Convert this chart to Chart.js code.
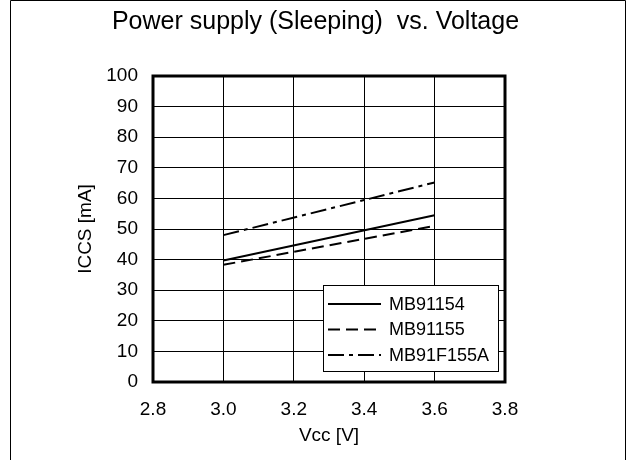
<!DOCTYPE html>
<html>
<head>
<meta charset="utf-8">
<title>Power supply (Sleeping) vs. Voltage</title>
<script src="https://cdn.jsdelivr.net/npm/chart.js@4/dist/chart.umd.min.js"></script>
<style>
  html, body { margin: 0; padding: 0; background: #fff; }
  #wrap { width: 631px; height: 460px; position: relative; }
</style>
</head>
<body>
<div id="wrap"><canvas id="iccsChart"></canvas></div>
<script>
// ==========================
// Data
// ==========================
const voltage = [3.0, 3.6];
const mb91154 = [39.7, 54.5];
const mb91155 = [38.3, 51.0];
const mb91f155a = [48.0, 65.2];
const seriesNames = ['MB91154', 'MB91155', 'MB91F155A'];
const seriesDash = [[], [12, 6], [16, 5, 4, 5]];

const FONT = 'Liberation Sans, Arial, Helvetica, sans-serif';

function toPoints(ys) {
  return voltage.map((v, i) => ({ x: v, y: ys[i] }));
}

// ==========================
// Plot frame + outer border
// ==========================
const framePlugin = {
  id: 'frame',
  afterDraw(chart) {
    const { ctx, chartArea: a, height } = chart;
    ctx.save();
    ctx.strokeStyle = '#000';
    ctx.lineWidth = 1;
    ctx.beginPath();
    ctx.moveTo(10.5, height);
    ctx.lineTo(10.5, 0.5);
    ctx.lineTo(625.5, 0.5);
    ctx.lineTo(625.5, height);
    ctx.stroke();
    ctx.lineWidth = 3;
    ctx.strokeRect(a.left, a.top, a.right - a.left, a.bottom - a.top);
    ctx.restore();
  }
};

// ==========================
// Legend box in lower right of plot
// ==========================
const lineLegend = {
  id: 'lineLegend',
  afterDraw(chart) {
    const { ctx, chartArea: a } = chart;
    const w = 175, h = 86;
    const x = a.right - 7 - w, y = a.bottom - 11 - h;
    ctx.save();
    ctx.fillStyle = '#fff';
    ctx.fillRect(x, y, w, h);
    ctx.strokeStyle = '#000';
    ctx.lineWidth = 1;
    ctx.strokeRect(x + 0.5, y + 0.5, w, h);
    ctx.font = '18px ' + FONT;
    ctx.textBaseline = 'middle';
    chart.data.datasets.forEach((ds, i) => {
      const cy = y + 19 + i * 25.5;
      ctx.setLineDash(ds.borderDash || []);
      ctx.lineWidth = 2;
      ctx.beginPath();
      ctx.moveTo(x + 5, cy);
      ctx.lineTo(x + 58, cy);
      ctx.stroke();
      ctx.setLineDash([]);
      ctx.fillStyle = '#000';
      ctx.fillText(ds.label, x + 66, cy + 1);
    });
    ctx.restore();
  }
};

new Chart(document.getElementById('iccsChart').getContext('2d'), {
  type: 'scatter',
  data: {
    datasets: [mb91154, mb91155, mb91f155a].map((ys, i) => ({
      label: seriesNames[i],
      data: toPoints(ys),
      showLine: true,
      borderColor: '#000',
      backgroundColor: '#000',
      borderWidth: 2,
      borderDash: seriesDash[i],
      pointRadius: 0,
      tension: 0
    }))
  },
  options: {
    responsive: true,
    maintainAspectRatio: false,
    animation: false,
    layout: { padding: 0 },
    plugins: {
      legend: { display: false },
      tooltip: { enabled: false },
      title: {
        display: true,
        text: 'Power supply (Sleeping)  vs. Voltage',
        color: '#000',
        font: { family: FONT, size: 25, weight: 'normal', lineHeight: 1.2 },
        padding: { top: 7, bottom: 39 }
      }
    },
    scales: {
      x: {
        type: 'linear',
        min: 2.8,
        max: 3.8,
        ticks: {
          stepSize: 0.2,
          color: '#000',
          padding: 16,
          font: { family: FONT, size: 19 },
          callback: v => v.toFixed(1)
        },
        grid: { color: '#000', lineWidth: 1, drawTicks: false },
        border: { display: false },
        title: {
          display: true,
          text: 'Vcc [V]',
          color: '#000',
          font: { family: FONT, size: 19, lineHeight: 1.2 },
          padding: { top: 0, bottom: 13 }
        },
        // fixed axis band height, and room on the right of the plot
        afterFit(scale) {
          scale.height = 78;
          scale.paddingRight = 126;
        }
      },
      y: {
        min: 0,
        max: 100,
        ticks: {
          stepSize: 10,
          color: '#000',
          padding: 15,
          font: { family: FONT, size: 19 }
        },
        grid: { color: '#000', lineWidth: 1, drawTicks: false },
        border: { display: false },
        title: {
          display: true,
          text: 'ICCS [mA]',
          color: '#000',
          font: { family: FONT, size: 19, lineHeight: 1.2 },
          padding: { top: 74.6, bottom: 0 }
        },
        afterFit(scale) { scale.width = 153; }
      }
    }
  },
  plugins: [framePlugin, lineLegend]
});
</script>
</body>
</html>
